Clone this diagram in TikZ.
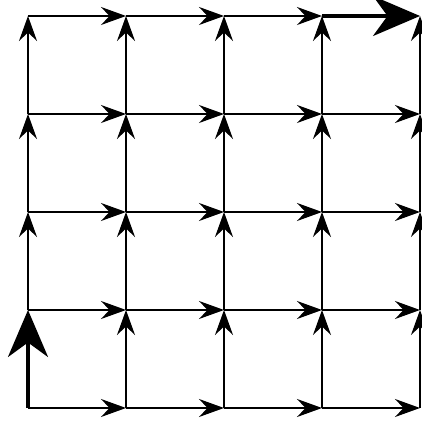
\documentclass[tikz,border=0pt]{standalone}
\usetikzlibrary{arrows.meta}
\tikzset{
  edge/.style={-{Stealth[length=5mm, width=3.6mm, inset=1.7mm]}, line width=0.85pt, black},
  bigedge/.style={-{Stealth[length=9.4mm, width=8mm, inset=2.9mm]}, line width=1.9pt, black},
}

\begin{document}
\begin{tikzpicture}[x=0.02cm, y=-0.02cm]
  \useasboundingbox (0,0) rectangle (422,421);
  % grid points, column \i, row \j (row 0 on top)
  \foreach \i in {0,...,4}
    \foreach \j in {0,...,4}
      \coordinate (g\i\j) at (28+98*\i, 16+98*\j);
  % horizontal edges, to the right
  \foreach \i in {0,...,3}
    \foreach \j in {0,...,4} {
      \pgfmathtruncatemacro{\k}{\i+1}
      \ifnum\i\j=30 \else \draw[edge] (g\i\j) -- (g\k\j); \fi
    }
  % vertical edges, upwards
  \foreach \i in {0,...,4}
    \foreach \j in {0,...,3} {
      \pgfmathtruncatemacro{\k}{\j+1}
      \ifnum\i\k=4 \else \draw[edge] (g\i\k) -- (g\i\j); \fi
    }
  % the two thick edges
  \draw[bigedge] (g04) -- (g03);
  \draw[bigedge] (g30) -- (g40);
\end{tikzpicture}
\end{document}
